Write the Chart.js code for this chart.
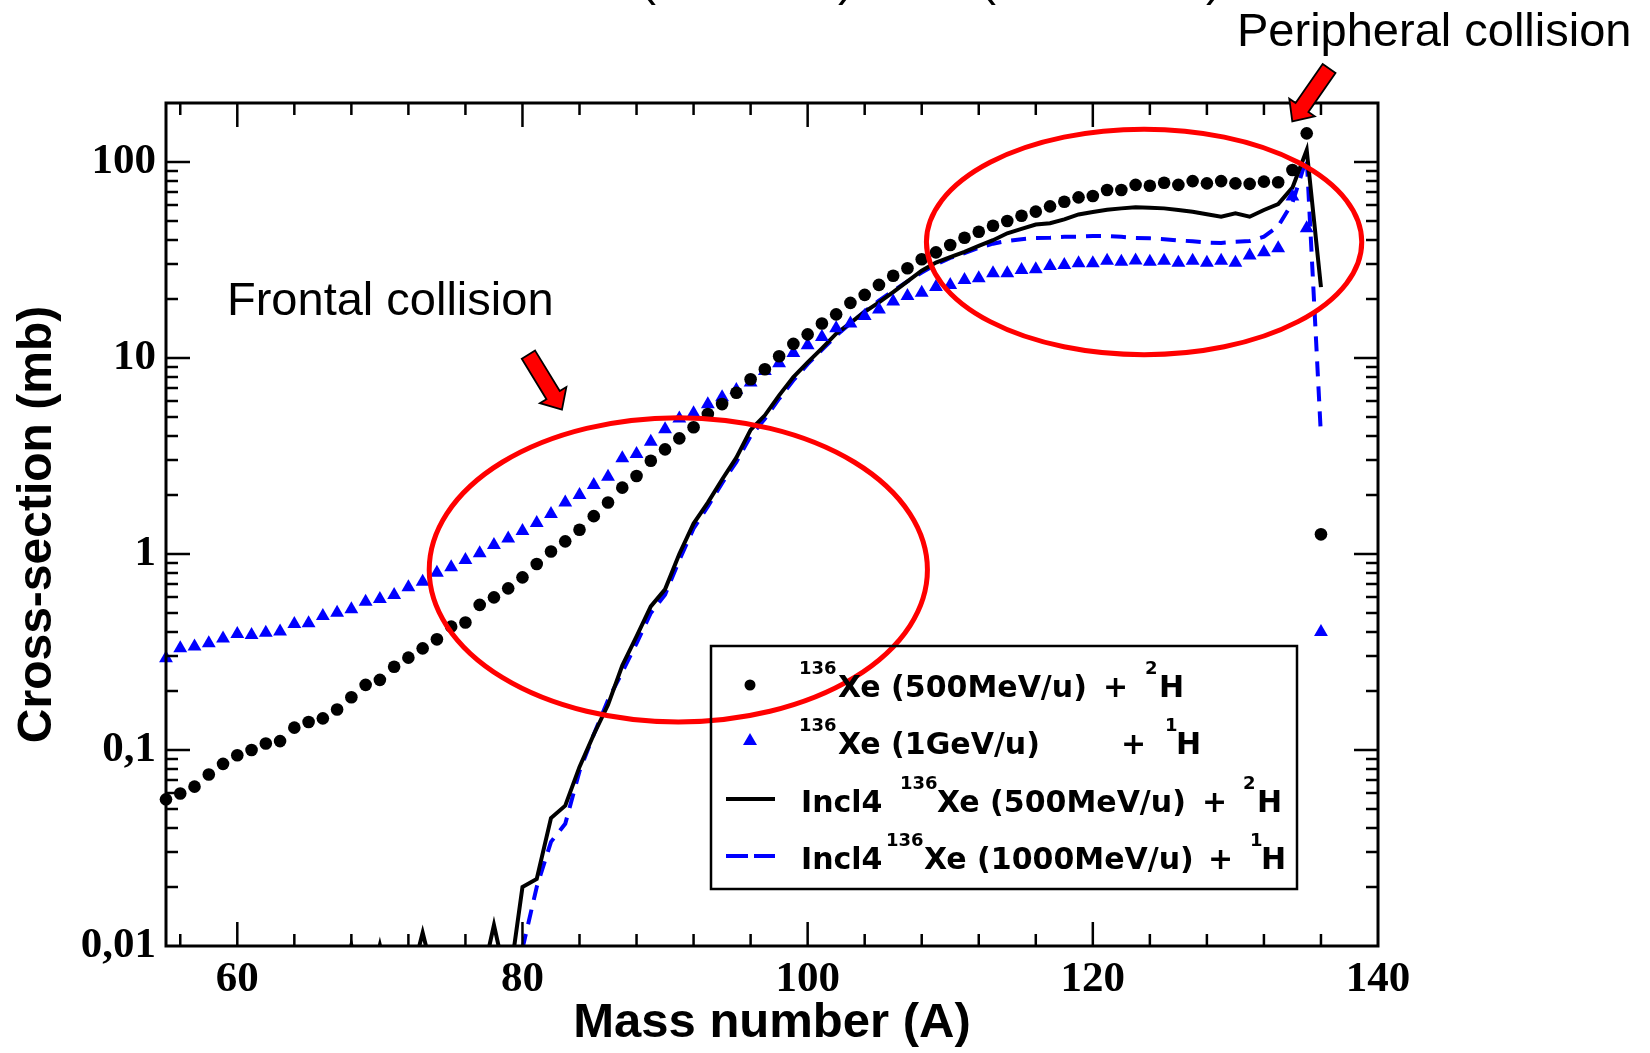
<!DOCTYPE html>
<html>
<head>
<meta charset="utf-8">
<script src="https://cdn.jsdelivr.net/npm/chart.js@4.4.1/dist/chart.umd.min.js"></script>
<style>
  html, body { margin: 0; padding: 0; background: #fff; }
  canvas { display: block; }
</style>
</head>
<body>
<canvas id="xsChart" width="1650" height="1053"></canvas>
<script>
// measured points: mass number A
const massExp = [55, 56, 57, 58, 59, 60, 61, 62, 63, 64, 65, 66, 67, 68, 69, 70, 71, 72, 73, 74,
  75, 76, 77, 78, 79, 80, 81, 82, 83, 84, 85, 86, 87, 88, 89, 90, 91, 92, 93, 94,
  95, 96, 97, 98, 99, 100, 101, 102, 103, 104, 105, 106, 107, 108, 109, 110, 111, 112, 113, 114,
  115, 116, 117, 118, 119, 120, 121, 122, 123, 124, 125, 126, 127, 128, 129, 130, 131, 132, 133, 134,
  135, 136];

// 136Xe (500 MeV/u) + 2H, cross-section in mb
const xs500d = [0.056, 0.060, 0.065, 0.075, 0.085, 0.094, 0.100, 0.108, 0.111, 0.130,
  0.139, 0.145, 0.161, 0.186, 0.215, 0.228, 0.266, 0.296, 0.330, 0.367,
  0.426, 0.447, 0.550, 0.601, 0.668, 0.760, 0.889, 1.03, 1.16, 1.33,
  1.56, 1.83, 2.18, 2.50, 2.99, 3.42, 3.89, 4.43, 5.18, 5.82,
  6.65, 7.79, 8.76, 10.2, 11.8, 13.2, 15.0, 16.7, 19.1, 21.0,
  23.6, 26.3, 28.7, 31.9, 34.6, 37.7, 41.1, 44.1, 47.3, 50.0,
  53.2, 55.8, 59.4, 62.7, 66.0, 67.1, 72.0, 72.0, 76.4, 75.7,
  78.4, 76.4, 79.9, 77.8, 79.9, 77.8, 77.3, 79.4, 78.8, 91.0,
  140, 1.26];

// 136Xe (1 GeV/u) + 1H
const xs1000p = [0.294, 0.330, 0.337, 0.350, 0.371, 0.391, 0.386, 0.397, 0.402, 0.440,
  0.443, 0.483, 0.502, 0.523, 0.571, 0.589, 0.618, 0.676, 0.722, 0.803,
  0.855, 0.931, 1.01, 1.11, 1.20, 1.31, 1.44, 1.60, 1.83, 2.00,
  2.25, 2.48, 3.08, 3.24, 3.74, 4.33, 4.92, 5.22, 5.81, 6.30,
  6.87, 7.51, 8.58, 9.40, 10.6, 11.6, 12.8, 14.2, 15.0, 16.4,
  17.7, 19.4, 20.7, 21.5, 23.0, 23.6, 25.0, 25.5, 27.1, 27.1,
  28.1, 28.4, 29.5, 29.8, 30.4, 30.4, 31.3, 31.0, 31.4, 31.0,
  31.3, 30.6, 31.3, 30.6, 31.3, 30.6, 33.3, 34.6, 36.3, 66.6,
  45.9, 0.40];

// INCL4 calculation, 500 MeV/u + 2H
const massIncl500 = [67, 68, 69, 70, 71, 72, 73, 74, 75, 76, 77, 78, 79, 80, 81, 82, 83, 84, 85, 86,
  87, 88, 89, 90, 91, 92, 93, 94, 95, 96, 97, 98, 99, 100, 101, 102, 103, 104, 105, 106,
  107, 108, 109, 110, 111, 112, 113, 114, 115, 116, 117, 118, 119, 120, 121, 122, 123, 124, 125, 126,
  127, 128, 129, 130, 131, 132, 133, 134, 135, 136];
const incl500d = [0.005, 0.0101, 0.005, 0.0101, 0.005, 0.006, 0.0117, 0.006, 0.004, 0.004,
  0.006, 0.0128, 0.006, 0.020, 0.022, 0.045, 0.052, 0.082, 0.12, 0.17,
  0.27, 0.38, 0.54, 0.66, 1.0, 1.43, 1.83, 2.4, 3.1, 4.3,
  5.1, 6.45, 8.0, 9.5, 11.2, 13.3, 15.1, 17.2, 19.2, 21.7,
  24.6, 27.9, 30.7, 32.7, 34.8, 37.3, 39.9, 43.3, 45.6, 48.0,
  48.7, 51.0, 54.0, 55.6, 57.1, 58.0, 58.7, 58.5, 58.0, 56.9,
  55.7, 54.1, 52.6, 54.7, 52.6, 56.9, 61.0, 74.0, 115, 23.0];

// INCL4 calculation, 1000 MeV/u + 1H
const massIncl1000 = [80, 81, 82, 83, 84, 85, 86, 87, 88, 89, 90, 91, 92, 93, 94, 95, 96, 97, 98, 99,
  100, 101, 102, 103, 104, 105, 106, 107, 108, 109, 110, 111, 112, 113, 114, 115, 116, 117, 118, 119,
  120, 121, 122, 123, 124, 125, 126, 127, 128, 129, 130, 131, 132, 133, 134, 135, 136];
const incl1000p = [0.0097, 0.020, 0.034, 0.042, 0.078, 0.12, 0.18, 0.25, 0.35, 0.50,
  0.62, 0.93, 1.35, 1.75, 2.3, 2.95, 4.0, 4.9, 6.2, 7.7,
  9.3, 11.0, 13.0, 15.0, 17.3, 19.6, 22.0, 24.6, 27.3, 30.0,
  32.4, 34.3, 36.5, 38.3, 39.6, 40.4, 41.0, 41.1, 41.5, 41.6,
  41.9, 41.9, 41.5, 41.0, 40.8, 40.4, 39.8, 39.4, 38.8, 38.6,
  39.2, 39.5, 41.6, 47.0, 62.0, 105, 4.0];

const xTicks = [60, 80, 100, 120, 140];
const yTicks = [0.01, 0.1, 1, 10, 100];
const yTickLabels = ['0,01', '0,1', '1', '10', '100'];

// regions marked on the figure (A range, cross-section range)
const frontalRegion = { a0: 73.46, a1: 108.4, v0: 0.139, v1: 4.96 };
const peripheralRegion = { a0: 108.33, a1: 138.86, v0: 10.4, v1: 147 };
// arrows: tail -> tip in (A, mb)
const frontalArrow = { a0: 80.42, v0: 10.4, a1: 82.77, v1: 5.45 };
const peripheralArrow = { a0: 136.57, v0: 300, a1: 133.99, v1: 161 };

const toPoints = (xs, ys) => xs.map((x, i) => ({ x: x, y: ys[i] }));

function drawArrow(ctx, tx, ty, hx, hy) {
  const ang = Math.atan2(hy - ty, hx - tx);
  const len = Math.hypot(hx - tx, hy - ty);
  const sw = 7.8, hw = 15.5, hl = 17;
  ctx.save();
  ctx.translate(tx, ty);
  ctx.rotate(ang);
  ctx.beginPath();
  ctx.moveTo(0, -sw);
  ctx.lineTo(len - hl, -sw);
  ctx.lineTo(len - hl, -hw);
  ctx.lineTo(len, 0);
  ctx.lineTo(len - hl, hw);
  ctx.lineTo(len - hl, sw);
  ctx.lineTo(0, sw);
  ctx.closePath();
  ctx.fillStyle = '#ff0000';
  ctx.fill();
  ctx.lineWidth = 1.8;
  ctx.strokeStyle = '#000';
  ctx.stroke();
  ctx.restore();
}

function drawRegion(ctx, x, y, r) {
  const x0 = x.getPixelForValue(r.a0), x1 = x.getPixelForValue(r.a1);
  const y0 = y.getPixelForValue(r.v1), y1 = y.getPixelForValue(r.v0);
  ctx.beginPath();
  ctx.ellipse((x0 + x1) / 2, (y0 + y1) / 2, (x1 - x0) / 2, (y1 - y0) / 2, 0, 0, 2 * Math.PI);
  ctx.stroke();
}

// frame with inward ticks on all four sides, plus the red marks
const framePlugin = {
  id: 'framePlugin',
  afterDatasetsDraw(chart) {
    const { ctx, chartArea: a, scales: { x, y } } = chart;
    ctx.save();
    ctx.strokeStyle = '#ff0000';
    ctx.lineWidth = 5;
    drawRegion(ctx, x, y, frontalRegion);
    drawRegion(ctx, x, y, peripheralRegion);

    ctx.strokeStyle = '#000';
    ctx.lineWidth = 2.5;
    ctx.beginPath();
    for (let v = 56; v < 140; v += 4) {
      const px = x.getPixelForValue(v);
      const len = v % 20 === 0 ? 24 : 12;
      ctx.moveTo(px, a.bottom); ctx.lineTo(px, a.bottom - len);
      ctx.moveTo(px, a.top); ctx.lineTo(px, a.top + len);
    }
    for (let d = -2; d <= 2; d++) {
      for (let m = 1; m <= 9; m++) {
        const v = m * Math.pow(10, d);
        if (v <= 0.0101 || v >= 199) continue;
        const py = Math.round(y.getPixelForValue(v));
        const len = m === 1 ? 24 : 12;
        ctx.moveTo(a.left, py); ctx.lineTo(a.left + len, py);
        ctx.moveTo(a.right, py); ctx.lineTo(a.right - len, py);
      }
    }
    ctx.stroke();
    ctx.lineWidth = 3;
    ctx.strokeRect(a.left, a.top, a.right - a.left, a.bottom - a.top);

    drawArrow(ctx, x.getPixelForValue(frontalArrow.a0), y.getPixelForValue(frontalArrow.v0),
      x.getPixelForValue(frontalArrow.a1), y.getPixelForValue(frontalArrow.v1));
    drawArrow(ctx, x.getPixelForValue(peripheralArrow.a0), y.getPixelForValue(peripheralArrow.v0),
      x.getPixelForValue(peripheralArrow.a1), y.getPixelForValue(peripheralArrow.v1));
    ctx.restore();
  }
};

const LEG = 'bold 30px "DejaVu Sans"';
const SUP = 'bold 18px "DejaVu Sans"';
// legend rows: [text, x, superscript?]
const legendRows = [
  [['136', 799, 1], ['Xe (500MeV/u)', 838], ['+', 1103], ['2', 1145, 1], ['H', 1159]],
  [['136', 799, 1], ['Xe (1GeV/u)', 838], ['+', 1121], ['1', 1165, 1], ['H', 1176]],
  [['Incl4', 801], ['136', 900, 1], ['Xe (500MeV/u)', 937], ['+', 1202], ['2', 1243, 1], ['H', 1257]],
  [['Incl4', 801], ['136', 886, 1], ['Xe (1000MeV/u)', 924], ['+', 1208], ['1', 1250, 1], ['H', 1261]]
];
const legendBaselines = [697, 754, 812, 869];

const textPlugin = {
  id: 'textPlugin',
  afterDraw(chart) {
    const { ctx } = chart;
    ctx.save();
    ctx.fillStyle = '#000';
    ctx.textBaseline = 'alphabetic';
    ctx.textAlign = 'left';

    // top title, cut off by the picture edge
    ctx.font = '48px "Liberation Sans"';
    [['(', 640], [')', 838], ['(', 980], [')', 1206]].forEach(p => ctx.fillText(p[0], p[1], -5));

    ctx.font = '47px "Liberation Sans"';
    ctx.fillText('Frontal collision', 227, 315);
    ctx.fillText('Peripheral collision', 1237, 46);

    // legend
    ctx.lineWidth = 2.5;
    ctx.strokeStyle = '#000';
    ctx.strokeRect(711, 646, 586, 243);
    legendRows.forEach((row, i) => {
      const b = legendBaselines[i];
      row.forEach(p => {
        ctx.font = p[2] ? SUP : LEG;
        ctx.fillText(p[0], p[1], p[2] ? b - 23 : b);
      });
    });
    ctx.beginPath();
    ctx.arc(750, 685, 5.5, 0, 2 * Math.PI);
    ctx.fill();
    ctx.fillStyle = '#0000ff';
    ctx.beginPath();
    ctx.moveTo(750, 733); ctx.lineTo(757, 745); ctx.lineTo(743, 745);
    ctx.closePath();
    ctx.fill();
    ctx.lineWidth = 4;
    ctx.beginPath();
    ctx.moveTo(726, 799); ctx.lineTo(775, 799);
    ctx.stroke();
    ctx.strokeStyle = '#0000ff';
    ctx.setLineDash([22, 6]);
    ctx.beginPath();
    ctx.moveTo(726, 856); ctx.lineTo(775, 856);
    ctx.stroke();
    ctx.restore();
  }
};

new Chart(document.getElementById('xsChart').getContext('2d'), {
  type: 'line',
  data: {
    datasets: [
      { label: '136Xe (500MeV/u) + 2H', data: toPoints(massExp, xs500d), showLine: false,
        pointStyle: 'circle', pointRadius: 6.3, pointBackgroundColor: '#000', pointBorderWidth: 0, clip: false },
      { label: '136Xe (1GeV/u) + 1H', data: toPoints(massExp, xs1000p), showLine: false,
        pointStyle: 'triangle', pointRadius: 8, pointBackgroundColor: '#0000ff', pointBorderWidth: 0, clip: false },
      { label: 'Incl4 136Xe (500MeV/u) + 2H', data: toPoints(massIncl500, incl500d),
        borderColor: '#000', borderWidth: 4, pointRadius: 0, tension: 0, clip: 0 },
      { label: 'Incl4 136Xe (1000MeV/u) + 1H', data: toPoints(massIncl1000, incl1000p),
        borderColor: '#0000ff', borderWidth: 4, borderDash: [15, 10], pointRadius: 0, tension: 0, clip: 0 }
    ]
  },
  options: {
    responsive: false,
    animation: false,
    devicePixelRatio: 1,
    layout: { padding: { left: 0, top: 103, right: 272, bottom: 0 } },
    plugins: { legend: { display: false }, tooltip: { enabled: false } },
    scales: {
      x: {
        type: 'linear', min: 55, max: 140,
        grid: { display: false, drawTicks: false },
        border: { display: false },
        afterFit: s => { s.height = 107; },
        afterBuildTicks: s => { s.ticks = xTicks.map(v => ({ value: v })); },
        ticks: { color: '#000', padding: 8, maxRotation: 0, font: { family: 'Liberation Serif', size: 43, weight: 'bold' } },
        title: { display: true, text: 'Mass number (A)', color: '#000', padding: { top: 0, bottom: 0 },
          font: { family: 'Liberation Sans', size: 49, weight: 'bold' } }
      },
      y: {
        type: 'logarithmic', min: 0.01, max: 200,
        grid: { display: false, drawTicks: false },
        border: { display: false },
        afterFit: s => { s.width = 166; },
        afterBuildTicks: s => { s.ticks = yTicks.map(v => ({ value: v })); },
        ticks: { color: '#000', padding: 10, font: { family: 'Liberation Serif', size: 43, weight: 'bold' },
          callback: v => yTickLabels[yTicks.indexOf(v)] },
        title: { display: true, text: 'Cross-section (mb)', color: '#000', padding: { top: 9, bottom: 0 },
          font: { family: 'Liberation Sans', size: 48, weight: 'bold' } }
      }
    }
  },
  plugins: [framePlugin, textPlugin]
});
</script>
</body>
</html>
